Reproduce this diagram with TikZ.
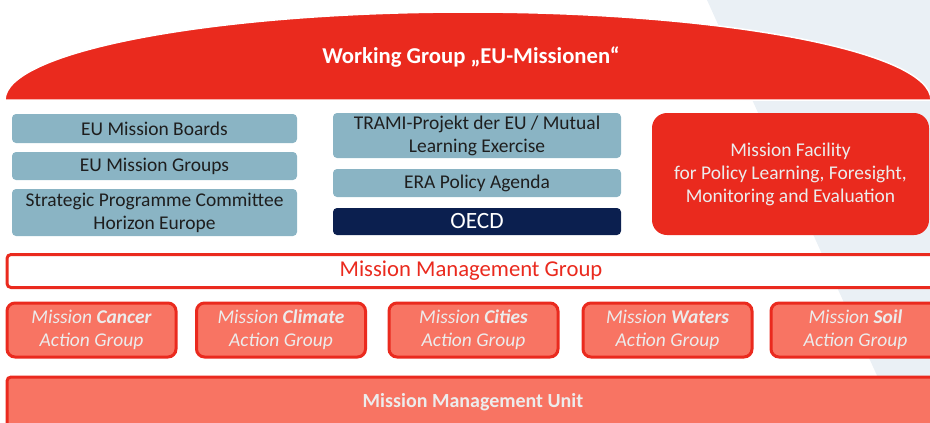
\documentclass[tikz,border=0pt]{standalone}
\usepackage{fontspec}
\setmainfont{Carlito}
\usepackage{xcolor}
\usepackage{tikz}
\definecolor{mred}{HTML}{EA2A1E}
\definecolor{msalmon}{HTML}{F87463}
\definecolor{mblue}{HTML}{8AB4C4}
\definecolor{mnavy}{HTML}{0B1F4F}
\definecolor{mbg}{HTML}{EAF0F5}
\definecolor{mtext}{HTML}{1E1E1E}
\definecolor{mlight}{HTML}{ECECEC}
\newdimen\px \px=0.75pt

\begin{document}
\begin{tikzpicture}[x=0.75pt,y=-0.75pt,
  box/.style={rounded corners=4\px,align=center,inner sep=0pt,
    font=\fontsize{14.6}{17.2}\selectfont},
  lbox/.style={box,fill=mblue,text=mtext,minimum width=285\px},
  cbox/.style={box,fill=mblue,text=mtext,minimum width=288\px},
  agrp/.style={box,fill=msalmon,draw=mred,line width=3\px,rounded corners=8\px,
    text=mlight,minimum width=169\px,minimum height=54\px,font=\itshape\fontsize{14.6}{17}\selectfont},
  band/.style={box,draw=mred,line width=3\px}]
\useasboundingbox (0,0) rectangle (930,422);
\clip (0,0) rectangle (930,422);
% background shading
\fill[mbg] (707,0) -- (930,0) -- (930,422) -- (898,422) -- cycle;
% working group dome
\fill[mred,draw=white,line width=1.5\px] (5,100)
  arc[start angle=180,end angle=360,x radius=463,y radius=88] -- cycle;
\node[text=white,font=\bfseries\fontsize{17}{20}\selectfont] (wg) at (471,57) {Working Group „EU-Missionen“};
% left column
\node[lbox,minimum height=29\px] (boards) at (154.5,128.5) {EU Mission Boards};
\node[lbox,minimum height=28\px] (groups) at (154.5,166) {EU Mission Groups};
\node[lbox,minimum height=47\px] (spc) at (154.5,212.5) {Strategic Programme Committee\\Horizon Europe};
% middle column
\node[cbox,minimum height=45\px] (trami) at (477,135.5) {TRAMI-Projekt der EU / Mutual\\Learning Exercise};
\node[cbox,minimum height=28\px] (era) at (477,183) {ERA Policy Agenda};
\node[cbox,fill=mnavy,text=white,minimum height=27\px,font=\fontsize{17.5}{20}\selectfont] (oecd) at (477,221.5) {OECD};
% mission facility
\node[box,fill=mred,text=mlight,rounded corners=15\px,minimum width=277\px,minimum height=122\px] (facility) at (790.5,174)
  {Mission Facility\\for Policy Learning, Foresight,\\Monitoring and Evaluation};
% management group
\node[band,fill=white,text=mred,minimum width=928\px,minimum height=33\px,font=\fontsize{17}{20}\selectfont] (mmg) at (471,271) {Mission Management Group};
% action groups
\node[agrp] (cancer) at (91.5,330) {Mission \textbf{Cancer}\\Action Group};
\node[agrp] (climate) at (281,330) {Mission \textbf{Climate}\\Action Group};
\node[agrp] (cities) at (473.5,330) {Mission \textbf{Cities}\\Action Group};
\node[agrp] (waters) at (667.5,330) {Mission \textbf{Waters}\\Action Group};
\node[agrp] (soil) at (855.5,330) {Mission \textbf{Soil}\\Action Group};
% management unit
\node[band,fill=msalmon,text=mlight,minimum width=932\px,minimum height=50\px,font=\bfseries\fontsize{15}{17}\selectfont] (mmu) at (473,402) {Mission Management Unit};
\end{tikzpicture}
\end{document}
